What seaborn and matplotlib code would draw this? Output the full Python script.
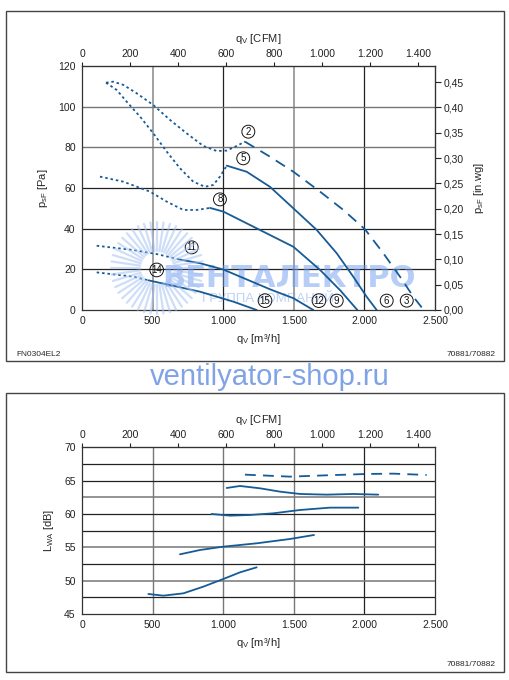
import numpy as np
import pandas as pd
import seaborn as sns
import matplotlib.pyplot as plt
from matplotlib.patches import Rectangle
from matplotlib.lines import Line2D


# ================================
# DATA
# ================================

# pressure curves, q [m3/h] vs p [Pa]
c2_dot_x = [170, 222, 293, 387, 505, 623, 741, 859, 954, 1025, 1096, 1154]
c2_dot_y = [111.8, 112.3, 110.7, 106.6, 100.8, 93.5, 86.9, 80.7, 78.2, 78.4, 80.7, 82.8]
c2_x = [1154, 1331, 1497, 1686, 1851, 2004, 2134, 2252, 2347, 2420]
c2_y = [82.8, 75.4, 68.0, 58.2, 49.2, 39.7, 27.9, 16.4, 6.5, 0]

c5_dot_x = [170, 246, 316, 411, 505, 600, 694, 788, 871, 930, 977, 1025]
c5_dot_y = [111.8, 108.2, 102.5, 95.1, 86.9, 77.9, 69.7, 63.1, 60.6, 61.5, 65.6, 71.0]
c5_x = [1025, 1166, 1331, 1497, 1662, 1804, 1921, 2016, 2087]
c5_y = [71.0, 68.0, 60.6, 50.0, 39.4, 27.9, 16.4, 6.5, 0]

c8_dot_x = [127, 293, 482, 600, 718, 812, 907]
c8_dot_y = [65.6, 63.1, 58.2, 53.3, 49.2, 49.2, 50.2]
c8_x = [907, 1001, 1213, 1497, 1686, 1827, 1950]
c8_y = [50.2, 48.4, 41.0, 31.1, 19.7, 9.8, 0]

c11_dot_x = [104, 363, 530, 694]
c11_dot_y = [31.6, 29.5, 27.5, 24.8]
c11_x = [694, 836, 1001, 1331, 1497, 1638]
c11_y = [24.8, 23.0, 19.9, 10.2, 5.8, 0]

c14_dot_x = [104, 363, 470]
c14_dot_y = [18.5, 16.4, 14.6]
c14_x = [470, 836, 1072, 1237]
c14_y = [14.6, 9.0, 4.1, 0]

# curve numbers: label, q, p
curve_labels = ["2", "5", "8", "11", "14", "15", "12", "9", "6", "3"]
label_x = [1178, 1142, 977, 777, 529, 1296, 1678, 1804, 2158, 2300]
label_y = [87.7, 74.6, 54.4, 30.8, 19.7, 4.6, 4.6, 4.6, 4.6, 4.6]

# sound power curves, q [m3/h] vs L_WA [dB]
s1_x = [1154, 1473, 1733, 2016, 2205, 2441]
s1_y = [65.9, 65.6, 65.8, 66.0, 66.05, 65.85]
s2_x = [1025, 1119, 1261, 1402, 1544, 1733, 1921, 2098]
s2_y = [63.9, 64.2, 63.85, 63.35, 63.0, 62.9, 63.0, 62.9]
s3_x = [918, 1048, 1190, 1355, 1544, 1756, 1957]
s3_y = [60.0, 59.75, 59.85, 60.1, 60.6, 60.95, 60.95]
s4_x = [694, 836, 1001, 1237, 1473, 1643]
s4_y = [53.95, 54.6, 55.1, 55.6, 56.25, 56.85]
s5_x = [470, 576, 718, 859, 1001, 1119, 1237]
s5_y = [48.0, 47.75, 48.1, 49.1, 50.25, 51.25, 52.0]

m3h_ticks = [0, 500, 1000, 1500, 2000, 2500]
m3h_labels = ["0", "500", "1.000", "1.500", "2.000", "2.500"]
cfm_ticks = [0, 200, 400, 600, 800, 1000, 1200, 1400]
cfm_labels = ["0", "200", "400", "600", "800", "1.000", "1.200", "1.400"]
inwg_ticks = [0.0, 0.05, 0.10, 0.15, 0.20, 0.25, 0.30, 0.35, 0.40, 0.45]


# ================================
# STYLE
# ================================

sns.set_style("white")
plt.rcParams["font.family"] = ["Liberation Sans", "DejaVu Sans"]
plt.rcParams["font.size"] = 7.5

LINE = "#165b96"
DOT = (0, (1.4, 1.6))
DASH = (0, (6, 4))
CFM = 1.699
INWG = 249.09
W, H = 510, 680


def draw(ax, x, y, style):
    df = pd.DataFrame({"q": x, "v": y})
    sns.lineplot(data=df, x="q", y="v", ax=ax, color=LINE,
                 linewidth=1.3, linestyle=style, sort=False, estimator=None)


def style_axes(ax, ylim, yticks, minor=None):
    ax.set_xlim(0, 2500)
    ax.set_ylim(*ylim)
    ax.set_xticks(m3h_ticks)
    ax.set_xticklabels(m3h_labels)
    ax.set_yticks(yticks)
    if minor is not None:
        ax.set_yticks(minor, minor=True)
    ax.tick_params(axis="both", direction="inout", length=5, width=0.8,
                   labelsize=7.5, pad=2, colors="#222222")
    ax.tick_params(axis="y", which="minor", direction="inout", length=5, width=0.8)
    for s in ax.spines.values():
        s.set_color("#333333")
        s.set_linewidth(0.9)
    ax.set_xlabel("q$_\\mathregular{V}$ [m³/h]", fontsize=8, labelpad=4)
    sec = ax.secondary_xaxis("top", functions=(lambda q: q / CFM, lambda c: c * CFM))
    sec.set_xticks(cfm_ticks)
    sec.set_xticklabels(cfm_labels)
    sec.tick_params(direction="out", length=3, labelsize=7.5, pad=2, colors="#222222")
    sec.set_xlabel("q$_\\mathregular{V}$ [CFM]", fontsize=8, labelpad=5)
    return sec


fig = plt.figure(figsize=(5.1, 6.8), dpi=100)

# panel frames
fig.patches.append(Rectangle((6 / W, 1 - 361 / H), 498 / W, 350 / H,
                             transform=fig.transFigure, fill=False,
                             edgecolor="#444444", linewidth=1))
fig.patches.append(Rectangle((6 / W, 1 - 672 / H), 498 / W, 279 / H,
                             transform=fig.transFigure, fill=False,
                             edgecolor="#444444", linewidth=1))


# ================================
# TOP PANEL - PRESSURE
# ================================

ax1 = fig.add_axes([82 / W, 1 - 310 / H, 353 / W, 244 / H])

for v in [500, 1500]:
    ax1.axvline(v, color="#888888", linewidth=1.1, zorder=0)
for v in [1000, 2000]:
    ax1.axvline(v, color="#222222", linewidth=0.9, zorder=0)
for h in [100, 80]:
    ax1.axhline(h, color="#777777", linewidth=1.0, zorder=0)
for h in [60, 40, 20]:
    ax1.axhline(h, color="#222222", linewidth=0.9, zorder=0)

# watermark logo (sunburst + text)
cx, cy = 157, 268
for a in np.linspace(0, 2 * np.pi, 44, endpoint=False):
    r0, r1 = 17, 46
    fig.add_artist(Line2D([(cx + r0 * np.cos(a)) / W, (cx + r1 * np.cos(a)) / W],
                          [1 - (cy + r0 * np.sin(a)) / H, 1 - (cy + r1 * np.sin(a)) / H],
                          transform=fig.transFigure, color="#a8c4f4",
                          alpha=0.55, linewidth=1.6, zorder=0.5))
ax1.text(1466, 15.3, "ВЕНТАЛЕКТРО", fontsize=22, fontweight="bold",
         color="#6f9df0", alpha=0.5, ha="center", va="center",
         family=["DejaVu Sans"], zorder=1)
ax1.text(1317, 5.4, "ГРУППА КОМПАНИЙ", fontsize=9.5, color="#6f9df0",
         alpha=0.45, ha="center", va="center", zorder=1)

for x, y in [(c2_dot_x, c2_dot_y), (c5_dot_x, c5_dot_y), (c8_dot_x, c8_dot_y),
             (c11_dot_x, c11_dot_y), (c14_dot_x, c14_dot_y)]:
    draw(ax1, x, y, DOT)
draw(ax1, c2_x, c2_y, DASH)
for x, y in [(c5_x, c5_y), (c8_x, c8_y), (c11_x, c11_y), (c14_x, c14_y)]:
    draw(ax1, x, y, "-")

for lab, x, y in zip(curve_labels, label_x, label_y):
    ax1.text(x, y, lab, fontsize=7, ha="center", va="center", color="#111111",
             bbox=dict(boxstyle="circle,pad=0.15", facecolor="none",
                       edgecolor="#111111", linewidth=0.7), zorder=5)

style_axes(ax1, (0, 120), [0, 20, 40, 60, 80, 100, 120])
ax1.set_ylabel("p$_\\mathregular{sF}$ [Pa]", fontsize=8, labelpad=6)

sec_y = ax1.secondary_yaxis("right", functions=(lambda p: p / INWG, lambda w: w * INWG))
sec_y.set_yticks(inwg_ticks)
sec_y.set_yticklabels([f"{t:.2f}".replace(".", ",") for t in inwg_ticks])
sec_y.tick_params(direction="out", length=4, labelsize=7.5, pad=2, colors="#222222")
sec_y.set_ylabel("p$_\\mathregular{sF}$ [in.wg]", fontsize=8, labelpad=6)

fig.text(16 / W, 1 - 354 / H, "FN0304EL2", fontsize=6, va="center")
fig.text(496 / W, 1 - 354 / H, "70881/70882", fontsize=6, va="center", ha="right")

fig.text(270 / W, 1 - 377 / H, "ventilyator-shop.ru", fontsize=21,
         color="#7fa3e6", ha="center", va="center")


# ================================
# BOTTOM PANEL - SOUND POWER
# ================================

ax2 = fig.add_axes([82 / W, 1 - 614 / H, 353 / W, 166.7 / H])

for v in [500, 1000, 1500]:
    ax2.axvline(v, color="#777777", linewidth=1.0, zorder=0)
ax2.axvline(2000, color="#222222", linewidth=0.9, zorder=0)
for h in [67.5, 65, 60, 57.5, 52.5, 47.5]:
    ax2.axhline(h, color="#222222", linewidth=0.9, zorder=0)
for h in [62.5, 55, 50]:
    ax2.axhline(h, color="#777777", linewidth=1.1, zorder=0)

draw(ax2, s1_x, s1_y, DASH)
for x, y in [(s2_x, s2_y), (s3_x, s3_y), (s4_x, s4_y), (s5_x, s5_y)]:
    draw(ax2, x, y, "-")

style_axes(ax2, (45, 70), [45, 50, 55, 60, 65, 70],
           minor=[47.5, 52.5, 57.5, 62.5, 67.5])
ax2.set_ylabel("L$_\\mathregular{WA}$ [dB]", fontsize=8, labelpad=6)

fig.text(496 / W, 1 - 665 / H, "70881/70882", fontsize=6, va="center", ha="right")

plt.savefig("out.png", dpi=100)
plt.close()
